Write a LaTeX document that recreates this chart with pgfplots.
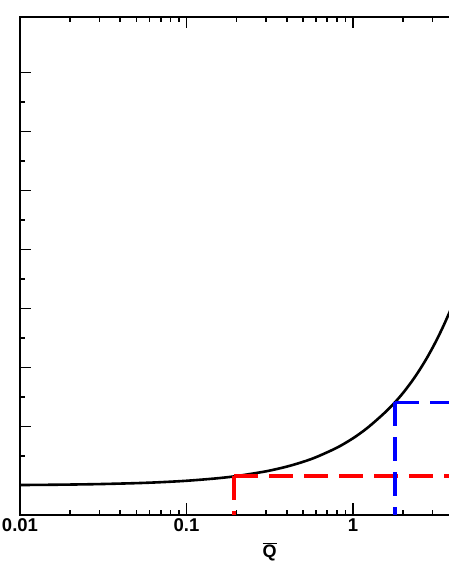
\documentclass[border=0pt]{standalone}
\usepackage{fontspec}
\setmainfont{Liberation Sans}
\usepackage{pgfplots}
\pgfplotsset{compat=1.18}
\begin{document}
\begin{tikzpicture}
\useasboundingbox (-20pt,-65pt) rectangle (429pt,515pt);
\begin{axis}[
  at={(0pt,0pt)}, anchor=south west,
  scale only axis,
  width=499.5pt, height=498pt,
  xmode=log,
  xmin=0.01, xmax=10,
  ymin=0.5, ymax=8.94,
  xtick={0.01,0.1,1,10},
  xticklabels={0.01,0.1,1,{}},
  ytick={1,2,3,4,5,6,7,8},
  yticklabels={},
  minor y tick num=1,
  tick align=inside,
  xtick pos=both, ytick pos=left,
  major tick length=11.5pt,
  minor tick length=5.5pt,
  axis line style={line width=2.1pt},
  every tick/.style={black, line width=1.6pt},
  /pgf/number format/assume math mode=true,
  ticklabel style={font=\fontsize{18.5}{20}\selectfont\bfseries},
  xlabel={$\overline{\hbox{\fontsize{18}{20}\selectfont\bfseries Q}}$},
  xlabel style={font=\fontsize{18}{20}\selectfont\bfseries, yshift=-4pt},
  clip=true,
]
\addplot[black, line width=2.6pt, smooth] coordinates {
(0.01,1.008) (0.015,1.012) (0.02,1.016) (0.03,1.024) (0.05,1.04) (0.07,1.056)
(0.1,1.08) (0.15,1.12) (0.2,1.16) (0.3,1.24) (0.4,1.32) (0.5,1.40) (0.6,1.48)
(0.8,1.64) (1,1.80) (1.2,1.96) (1.4,2.12) (1.6,2.27) (1.8,2.42) (2,2.57)
(2.25,2.76) (2.5,2.95) (2.75,3.14) (3,3.33) (3.25,3.52) (3.5,3.71) (3.75,3.90) (4,4.08)
};
\addplot[red, line width=3.3pt, dash pattern=on 24pt off 11pt] coordinates {(0.193,1.16) (0.193,0.5)};
\addplot[red, line width=3.3pt, dash pattern=on 24pt off 11pt] coordinates {(0.193,1.16) (10,1.16)};
\addplot[blue, line width=3.3pt, dash pattern=on 24pt off 11pt] coordinates {(1.79,2.41) (1.79,0.5)};
\addplot[blue, line width=3.3pt, dash pattern=on 24pt off 11pt] coordinates {(1.79,2.41) (10,2.41)};
\end{axis}
\end{tikzpicture}
\end{document}
